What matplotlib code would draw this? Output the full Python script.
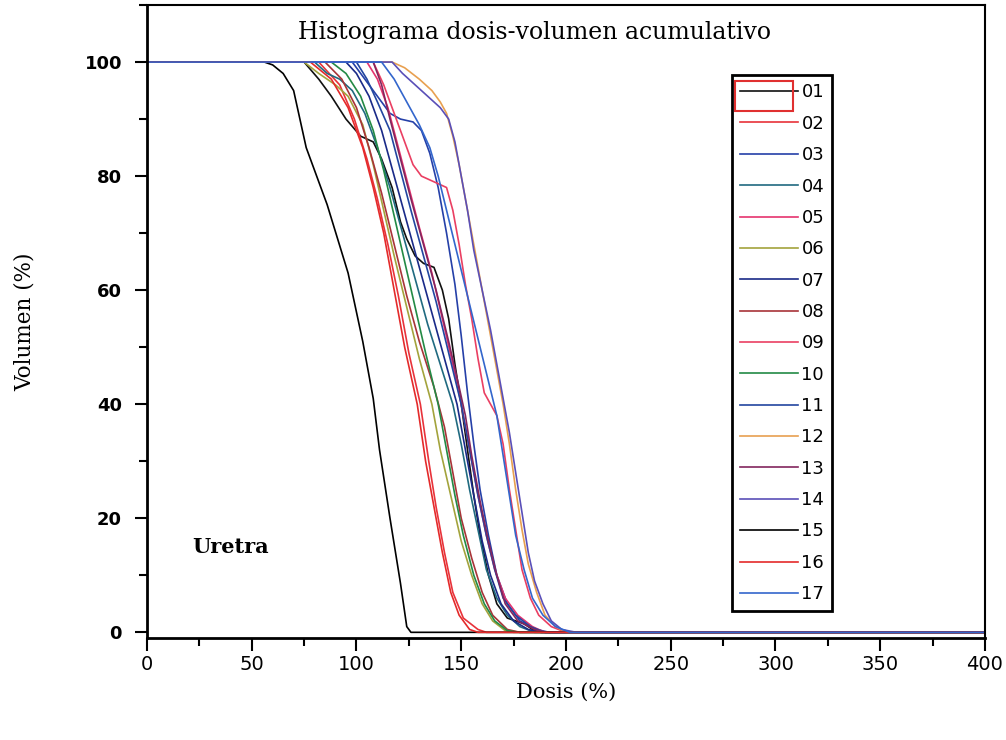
import matplotlib
matplotlib.use("Agg")
import matplotlib.pyplot as plt
from matplotlib.patches import Rectangle
from matplotlib.ticker import MultipleLocator

# patient curves: dose (%) and cumulative volume (%)
labels = ["01", "02", "03", "04", "05", "06", "07", "08", "09",
          "10", "11", "12", "13", "14", "15", "16", "17"]
colors = ["#111111", "#e8323a", "#2540a8", "#206a80", "#e5336e", "#a3a33c",
          "#1a2a88", "#a83438", "#ea3f62", "#238a45", "#2246a0", "#e8a050",
          "#83265e", "#5a4fb8", "#000000", "#e42a2a", "#3366cc"]

dose_01 = [0, 75, 82, 88, 95, 102, 108, 112, 117, 121, 124, 128, 132, 137, 141, 144, 147, 150, 153, 156, 159, 163, 167, 172, 176, 180, 184, 188, 400]
vol_01 = [100, 100, 97, 94, 90, 87, 86, 83, 78, 72, 69, 66, 64.7, 64, 60, 55, 47, 40, 32, 24, 17, 10, 5, 2.5, 2, 1.5, 0.5, 0, 0]
dose_02 = [0, 82, 92, 99, 105, 110, 115, 120, 125, 130.5, 134.5, 138, 142, 146, 151, 158, 162, 400]
vol_02 = [100, 100, 96, 90, 83, 76, 68, 59, 49, 40, 30, 22, 14, 7, 2.5, 0.5, 0, 0]
dose_03 = [0, 98, 104, 110, 116, 121, 127, 131, 135, 139, 143, 147, 150, 153, 156, 159, 163, 167, 172, 178, 186, 192, 400]
vol_03 = [100, 100, 97, 94, 91, 90, 89.5, 88, 84, 78, 70, 61, 52, 42, 33, 25, 17, 10, 5, 2, 0.5, 0, 0]
dose_04 = [0, 80, 86, 92, 98, 104, 110, 116, 122, 128, 134, 140, 146, 150, 154, 158, 162, 167, 172, 178, 185, 400]
vol_04 = [100, 100, 98, 97, 95, 91, 85, 78, 70, 62, 54, 47, 40, 33, 25, 18, 11, 6, 3, 1, 0, 0]
dose_05 = [0, 105, 110, 115, 120, 125, 130, 136, 141, 146, 150, 154, 158, 162, 166, 171, 177, 184, 190, 400]
vol_05 = [100, 100, 97, 92, 85, 78, 71, 63, 55, 47, 40, 32, 24, 17, 11, 6, 3, 1, 0, 0]
dose_06 = [0, 75, 82, 90, 96, 103, 108, 113, 118, 124, 130, 136, 140, 145, 150, 155, 160, 165, 171, 175, 400]
vol_06 = [100, 100, 98, 96, 94, 89, 82, 74, 66, 57, 48, 40, 32, 24, 16, 10, 5, 2, 0.3, 0, 0]
dose_07 = [0, 95, 100, 106, 112, 118, 124, 130, 136, 142, 148, 152, 156, 160, 164, 169, 175, 182, 188, 400]
vol_07 = [100, 100, 98, 94, 88, 80, 72, 64, 56, 48, 40, 32, 24, 16, 10, 5, 2, 0.5, 0, 0]
dose_08 = [0, 85, 93, 100, 106, 112, 118, 124, 130, 137, 142, 146, 150, 155, 160, 165, 172, 178, 400]
vol_08 = [100, 100, 97, 92, 85, 77, 68, 59, 51, 43, 36, 28, 20, 13, 7, 3, 0.5, 0, 0]
dose_09 = [0, 108, 113, 118, 123, 127, 131, 137, 143, 146, 149, 152, 155, 158, 161, 164, 167, 170, 173, 176, 179, 183, 187, 193, 200, 400]
vol_09 = [100, 100, 96, 91, 86, 82, 80, 79, 78, 74, 68, 61, 55, 48, 42, 40, 38, 33, 25, 18, 11, 6, 3, 1, 0, 0]
dose_10 = [0, 88, 95, 102, 108, 113, 118, 123, 128, 133, 139, 143, 147, 151, 156, 161, 166, 172, 178, 400]
vol_10 = [100, 100, 98, 94, 88, 81, 73, 65, 57, 49, 40, 32, 24, 17, 10, 5, 2, 0.3, 0, 0]
dose_11 = [0, 100, 105, 110, 116, 121, 126, 132, 138, 144, 150, 154, 158, 162, 166, 170, 176, 183, 190, 400]
vol_11 = [100, 100, 97, 93, 88, 81, 74, 66, 58, 49, 40, 32, 24, 17, 11, 6, 3, 1, 0, 0]
dose_12 = [0, 117, 123, 130, 136, 140, 143, 146, 149, 152, 155, 158, 161, 164, 167, 170, 173, 176, 179, 182, 186, 190, 195, 200, 400]
vol_12 = [100, 100, 99, 97, 95, 93, 91, 87, 82, 76, 70, 64, 58, 52, 46, 40, 33, 25, 18, 12, 7, 3, 1, 0, 0]
dose_13 = [0, 108, 112, 116, 121, 126, 132, 138, 144, 149, 152, 155, 159, 163, 167, 171, 177, 185, 190, 400]
vol_13 = [100, 100, 96, 90, 83, 76, 68, 60, 51, 43, 38, 31, 23, 16, 10, 5, 2, 0.5, 0, 0]
dose_14 = [0, 117, 122, 128, 134, 140, 144, 147, 150, 153, 156, 160, 164, 167, 170, 173, 176, 179, 182, 185, 189, 193, 198, 205, 400]
vol_14 = [100, 100, 98, 96, 94, 92, 90, 86, 80, 74, 67, 60, 53, 47, 41, 35, 28, 21, 14, 9, 5, 2, 0.5, 0, 0]
dose_15 = [0, 56, 60, 65, 70, 76, 86, 96, 103, 108, 111, 116, 121, 124, 126, 400]
vol_15 = [100, 100, 99.5, 98, 95, 85, 75, 63, 51, 41, 32, 20, 8.6, 1, 0, 0]
dose_16 = [0, 78, 88, 96, 103, 108, 113, 118, 123, 129, 133, 137, 141, 145, 149, 154, 158, 400]
vol_16 = [100, 100, 97, 92, 85, 78, 70, 60, 50, 40, 30, 22, 14, 7, 3, 0.5, 0, 0]
dose_17 = [0, 112, 118, 124, 130, 135, 139, 143, 147, 151, 155, 159, 163, 167, 170, 173, 176, 180, 184, 189, 195, 202, 400]
vol_17 = [100, 100, 97, 93, 89, 85, 80, 74, 68, 62, 56, 50, 44, 38, 31, 24, 17, 11, 6, 3, 1, 0, 0]

doses = [dose_01, dose_02, dose_03, dose_04, dose_05, dose_06, dose_07, dose_08, dose_09,
         dose_10, dose_11, dose_12, dose_13, dose_14, dose_15, dose_16, dose_17]
vols = [vol_01, vol_02, vol_03, vol_04, vol_05, vol_06, vol_07, vol_08, vol_09,
        vol_10, vol_11, vol_12, vol_13, vol_14, vol_15, vol_16, vol_17]

fig = plt.figure(figsize=(10.06, 7.4), dpi=100)
ax = fig.add_axes([0.1461, 0.1378, 0.833, 0.8554])

for d, v, c, lab in zip(doses, vols, colors, labels):
    ax.plot(d, v, color=c, lw=1.2, label=lab)

ax.set_xlim(0, 400)
ax.set_ylim(-1, 110)
ax.xaxis.set_major_locator(MultipleLocator(50))
ax.xaxis.set_minor_locator(MultipleLocator(25))
ax.yaxis.set_major_locator(MultipleLocator(20))
ax.yaxis.set_minor_locator(MultipleLocator(10))
ax.set_yticks([0, 20, 40, 60, 80, 100])
ax.tick_params(which="major", direction="out", length=9, width=1.5)
ax.tick_params(which="minor", direction="out", length=5.5, width=1.5)
ax.tick_params(axis="y", which="major", pad=9)
ax.tick_params(top=False, right=False)

for side in ["left", "bottom"]:
    ax.spines[side].set_linewidth(2)
for side in ["top", "right"]:
    ax.spines[side].set_linewidth(1.5)

for t in ax.get_xticklabels():
    t.set_fontfamily(["Liberation Sans Narrow", "DejaVu Sans"])
    t.set_fontsize(14)
for t in ax.get_yticklabels():
    t.set_fontfamily("DejaVu Sans")
    t.set_fontsize(13)
    t.set_fontweight("bold")

ax.set_xlabel("Dosis (%)", family="DejaVu Serif", fontsize=15, labelpad=6)
ax.set_ylabel("Volumen (%)", family="DejaVu Serif", fontsize=15.5, labelpad=35)

ax.text(0.462, 0.956, "Histograma dosis-volumen acumulativo", transform=ax.transAxes,
        ha="center", va="center", family="DejaVu Serif", fontsize=17)
ax.text(21.5, 15, "Uretra", ha="left", va="center", family="DejaVu Serif",
        fontsize=15, fontweight="bold")

leg = ax.legend(loc="upper left", bbox_to_anchor=(0.698, 0.889), fontsize=13,
                frameon=True, fancybox=False, edgecolor="black",
                handlelength=3.2, handletextpad=0.2, labelspacing=0.74,
                borderpad=0.45, borderaxespad=0)
leg.get_frame().set_linewidth(2)
leg.get_frame().set_alpha(1)

# red selection box around the first legend entry
fig.patches.append(Rectangle((0.7306, 0.85), 0.0577, 0.0405, transform=fig.transFigure,
                             fill=False, edgecolor="#e03030", lw=1.5))

fig.savefig("out.png", dpi=100)
